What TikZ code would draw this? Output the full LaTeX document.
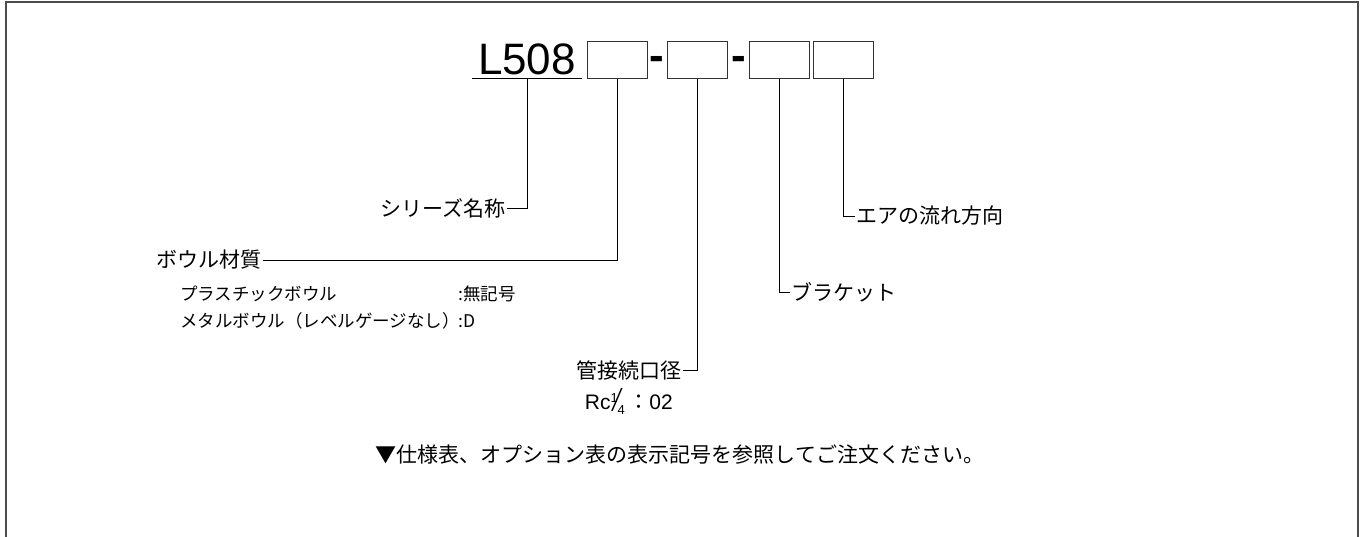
\documentclass[tikz,border=0pt]{standalone}
\usepackage{fontspec}
\setmainfont{Liberation Sans}
\newfontfamily\jpfont{Noto Sans CJK JP}
\usetikzlibrary{positioning}

\tikzset{
  cell/.style={draw=black!80,line width=1pt,minimum width=60pt,minimum height=37pt,inner sep=0pt},
  lbl/.style={inner sep=1pt,font=\jpfont\fontsize{21}{24}\selectfont},
  sub/.style={inner sep=0pt,anchor=base west,font=\jpfont\fontsize{17.5}{20}\selectfont},
  leader/.style={line width=0.9pt},
}

\begin{document}
\begin{tikzpicture}[x=1pt,y=-1pt]
\useasboundingbox (0,0) rectangle (1364,537);
% frame, open at the bottom
\draw[gray!60!black,line width=2pt] (6,537) -- (6,2) -- (1358,2) -- (1358,537);

% model code
\node[font=\fontsize{44}{48}\selectfont,inner xsep=5.5pt,inner ysep=3pt,anchor=base] (code) at (527,75) {L508};
\draw[leader] (code.south west) -- (code.south east);
\node[cell] (b1) at (617,60.5) {};
\node[cell] (b2) at (697,60.5) {};
\node[cell] (b3) at (779.5,60.5) {};
\node[cell] (b4) at (843,60.5) {};
\node[font=\bfseries\fontsize{44}{48}\selectfont,inner sep=0pt,anchor=base] (d1) at (657,71) {-};
\node[font=\bfseries\fontsize{44}{48}\selectfont,inner sep=0pt,anchor=base] (d2) at (738.5,71) {-};

% labels
\node[lbl,anchor=east] (series) at (507,208) {シリーズ名称};
\node[lbl,anchor=east] (bowl) at (263,260) {ボウル材質};
\node[sub] (plastic) at (180,300) {プラスチックボウル};
\node[sub] (plasticcode) at (458,300) {:無記号};
\node[sub] (metal) at (180,327) {メタルボウル（レベルゲージなし）};
\node[sub] (metalcode) at (458,327) {:D};
\node[lbl,anchor=east] (port) at (683,370) {管接続口径};
\node[lbl,anchor=east] (portsize) at (674,401) {{\rmfamily Rc\raisebox{7pt}{\fontsize{13}{13}\selectfont 1}\kern-2pt\raisebox{-2pt}{\scalebox{1.1}[1.6]{⁄}}\kern-2pt\raisebox{-5pt}{\fontsize{13}{13}\selectfont 4}}\,：{\rmfamily 02}};
\node[lbl,anchor=west] (bracket) at (790,292) {ブラケット};
\node[lbl,anchor=west] (flow) at (855,216) {エアの流れ方向};
\node[lbl] (note) at (680,455) {▼仕様表、オプション表の表示記号を参照してご注文ください。};

% leaders
\draw[leader] (code.south) |- (series.east);
\draw[leader] (b1.south) |- (bowl.east);
\draw[leader] (b2.south) |- (port.east);
\draw[leader] (b3.south) |- (bracket.west);
\draw[leader] (b4.south) |- (flow.west);
\end{tikzpicture}
\end{document}
